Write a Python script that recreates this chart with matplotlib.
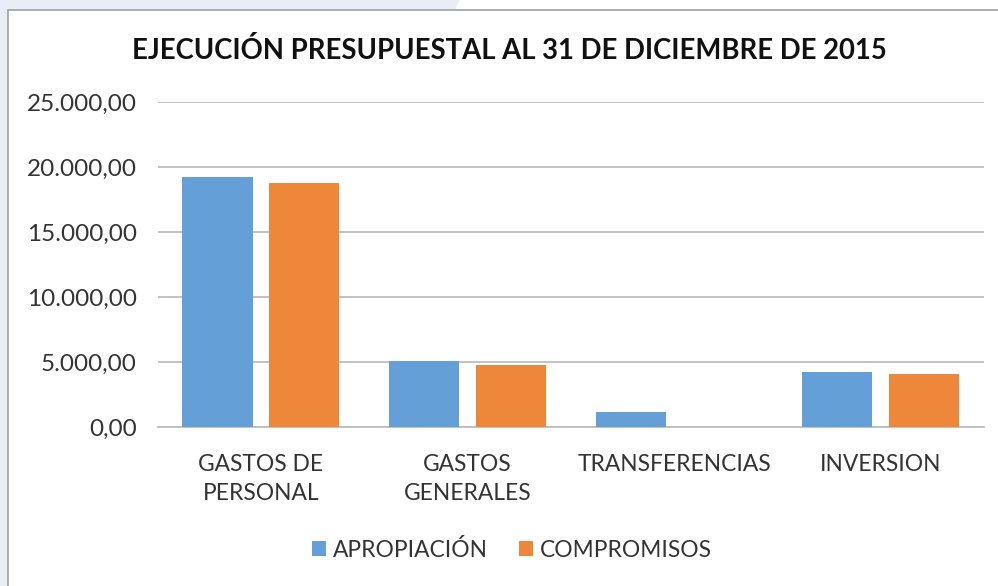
import matplotlib
matplotlib.use('Agg')
from matplotlib import pyplot as plt
from matplotlib.patches import Rectangle, Polygon
from matplotlib.ticker import FuncFormatter
import numpy as np

categorias = ['GASTOS DE\nPERSONAL', 'GASTOS\nGENERALES', 'TRANSFERENCIAS', 'INVERSION']
apropiacion = [19200, 5080, 1180, 4230]
compromisos = [18790, 4770, 0, 4080]
series = ['APROPIACIÓN', 'COMPROMISOS']
colores = ['#659fd7', '#ef873b']

plt.rcParams['font.family'] = ['Lato', 'DejaVu Sans']


def miles(v, pos):
    s = '{:,.2f}'.format(v)
    return s.replace(',', 'X').replace('.', ',').replace('X', '.')


def main():
    fig = plt.figure(figsize=(9.98, 5.86), dpi=100)
    fig.patch.set_facecolor('#e9edf5')

    # fondo: zona blanca diagonal arriba a la derecha
    fig.patches.append(Polygon([(0.46, 1.0), (1.0, 1.0), (1.0, 0.95), (0.45, 0.95)],
                               closed=True, transform=fig.transFigure,
                               facecolor='white', edgecolor='none', zorder=-2))
    # caja del grafico
    fig.patches.append(Rectangle((0.008, -0.01), 1.0, 0.993, transform=fig.transFigure,
                                 facecolor='white', edgecolor='#a0a0a0', linewidth=1.2, zorder=-1))

    ax = fig.add_axes([0.158, 0.271, 0.828, 0.555])
    ax.set_zorder(2)
    ax.set_facecolor('none')
    x = np.arange(len(categorias))
    w = 0.34
    ax.bar(x - 0.04 - w / 2, apropiacion, w, color=colores[0], label=series[0], zorder=3)
    ax.bar(x + 0.04 + w / 2, compromisos, w, color=colores[1], label=series[1], zorder=3)

    ax.set_xlim(-0.5, 3.5)
    ax.set_ylim(0, 25000)
    ax.set_yticks(np.arange(0, 25001, 5000))
    ax.yaxis.set_major_formatter(FuncFormatter(miles))
    ax.set_xticks(x)
    ax.set_xticklabels(categorias, fontsize=16.4, color='#333333', linespacing=1.5)
    ax.tick_params(axis='y', labelsize=17.5, labelcolor='#333333', length=0, pad=15)
    ax.tick_params(axis='x', length=0, pad=19)
    ax.grid(axis='y', color='#bdbdbd', linewidth=1.3, zorder=0)
    for s in ['top', 'right', 'left']:
        ax.spines[s].set_visible(False)
    ax.spines['bottom'].set_color('#bdbdbd')
    ax.spines['bottom'].set_linewidth(1.3)

    fig.text(0.51, 0.913, 'EJECUCIÓN PRESUPUESTAL AL 31 DE DICIEMBRE DE 2015',
             ha='center', va='center', fontsize=19.8, fontweight='bold', color='#111111')

    fig.legend(loc='center', bbox_to_anchor=(0.513, 0.062), ncol=2, frameon=False,
               fontsize=16.4, handlelength=0.6, handleheight=0.6, handletextpad=0.3,
               columnspacing=1.4, labelcolor='#333333')

    fig.savefig('out.png', dpi=100, facecolor=fig.get_facecolor())


if __name__ == '__main__':
    main()
